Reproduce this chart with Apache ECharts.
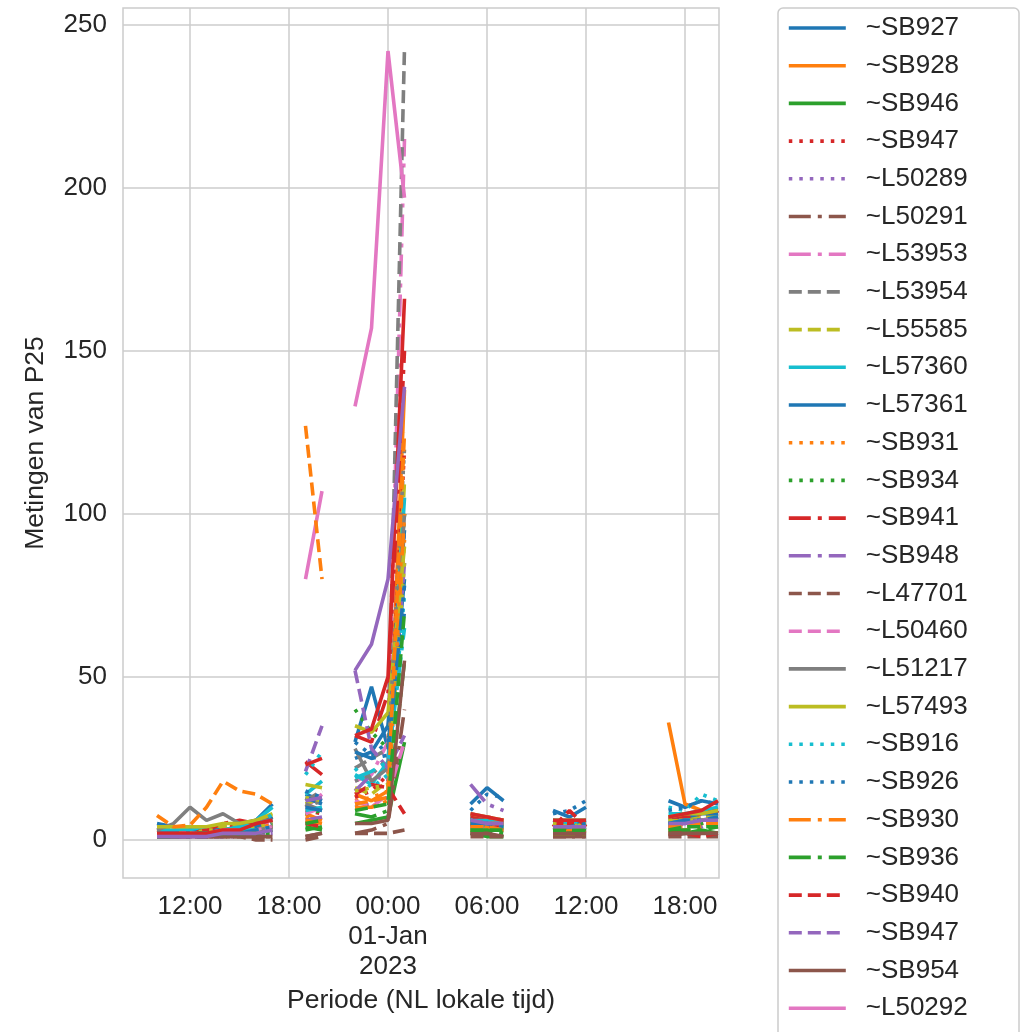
<!DOCTYPE html>
<html>
<head>
<meta charset="utf-8">
<script src="https://cdn.jsdelivr.net/npm/echarts@6/dist/echarts.min.js"></script>
<style>html,body{margin:0;padding:0;background:#fff}#c{width:1028px;height:1032px}</style>
</head>
<body>
<div id="c"></div>
<script>
// Time slots: hours since 2022-12-31 00:00 (null rows = gaps without measurements)
const hours = [10,11,12,13,14,15,16,17,18,19,20,21,22,23,24,25,26,29,30,31,32,34,35,36,37,41,42,43,44];

const xTickValues = [12,18,24,30,36,42];
const xTickLabels = ['12:00','18:00','00:00\n01-Jan\n2023','06:00','12:00','18:00'];
const yTickValues = [0,50,100,150,200,250];

const seriesNames = ['~SB927','~SB928','~SB946','~SB947','~L50289','~L50291','~L53953','~L53954','~L55585','~L57360','~L57361','~SB931','~SB934','~SB941','~SB948','~L47701','~L50460','~L51217','~L57493','~SB916','~SB926','~SB930','~SB936','~SB940','~SB947 ','~SB954','~L50292'];
// further sensors whose legend entries fall below the visible area
const hiddenNames = ['~n27','~n28','~n29','~n30','~n31','~n32','~n33','~n34'];

const N = null;
const v00 = [5,4,3,3,3,4,6,11,N,14,12,N,30,47,28,80,N,11,16,12,N,9,7,10,N,12,10,12,11];
const v01 = [3,2,2,3,3,4,5,7,N,8,6,N,14,12,15,138,N,5,4,3,N,3,3,2,N,36,11,9,8];
const v02 = [2,2,2,2,3,3,3,4,N,3,4,N,5,6,7,30,N,2,1,1,N,2,2,2,N,2,2,3,2];
const v03 = [2,2,3,3,4,4,4,6,N,9,8,N,13,15,20,120,N,6,5,6,N,4,5,4,N,5,6,5,9];
const v04 = [1,1,1,1,1,1,1,2,N,5,6,N,10,11,13,95,N,4,4,3,N,2,2,2,N,4,5,4,6];
const v05 = [1,1,1,1,1,1,1,1,N,1,2,N,2,3,5,40,N,2,2,1,N,1,1,1,N,1,2,2,2];
const v06 = [2,2,2,3,3,3,4,5,N,10,14,N,18,20,30,215,N,8,7,6,N,4,4,4,N,5,6,7,8];
const v07 = [3,3,3,3,4,4,4,5,N,12,15,N,22,25,28,243,N,7,6,5,N,5,5,6,N,6,7,7,8];
const v08 = [3,3,4,4,4,5,6,7,N,11,13,N,16,14,18,110,N,6,6,5,N,5,5,5,N,6,6,7,7];
const v09 = [3,3,3,3,3,4,6,10,N,14,18,N,20,17,24,105,N,7,6,5,N,6,6,6,N,8,8,9,10];
const v10 = [2,2,2,3,3,3,4,7,N,13,11,N,25,27,35,95,N,6,5,5,N,6,5,6,N,7,7,8,8];
const v11 = [2,2,2,2,2,3,3,4,N,7,6,N,12,13,15,92,N,4,4,4,N,3,3,3,N,4,4,5,5];
const v12 = [2,2,2,3,3,3,3,5,N,8,9,N,40,33,28,100,N,5,4,4,N,3,4,3,N,4,5,5,6];
const v13 = [2,2,2,3,5,6,5,6,N,24,20,N,32,30,45,150,N,7,7,6,N,5,5,5,N,7,7,8,9];
const v14 = [1,1,1,1,2,2,2,3,N,6,7,N,15,20,18,85,N,17,11,9,N,4,4,4,N,5,5,6,6];
const v15 = [1,1,1,1,1,1,0,0,N,0,1,N,2,2,2,3,N,1,1,1,N,1,1,1,N,1,1,1,1];
const v16 = [2,2,2,2,2,3,3,3,N,8,10,N,12,10,14,30,N,5,5,4,N,3,3,3,N,4,4,5,5];
const v17 = [3,5,10,6,8,5,6,6,N,11,9,N,28,18,22,100,N,6,5,5,N,4,4,4,N,5,6,6,7];
const v18 = [4,4,4,4,5,5,6,8,N,17,16,N,35,33,39,90,N,8,7,6,N,6,6,6,N,7,8,8,9];
const v19 = [2,2,2,2,3,3,4,8,N,20,27,N,22,16,20,75,N,5,4,4,N,5,5,5,N,10,9,14,12];
const v20 = [2,2,2,2,2,3,3,5,N,15,13,N,30,26,30,70,N,9,14,13,N,8,9,12,N,9,10,12,11];
const v21 = [2,2,2,2,3,3,3,5,N,6,5,N,10,10,12,100,N,3,3,3,N,2,2,2,N,3,3,4,4];
const v22 = [1,1,1,1,2,2,2,2,N,4,3,N,8,7,9,55,N,3,3,2,N,2,2,2,N,3,3,3,4];
const v23 = [2,2,2,2,3,3,3,4,N,5,4,N,14,17,16,8,N,5,4,4,N,4,9,4,N,2,2,1,2];
const v24 = [1,1,1,1,1,2,2,2,N,21,35,N,52,28,22,32,N,4,4,3,N,3,3,3,N,4,4,5,5];
const v25 = [1,1,1,1,1,1,1,1,N,1,2,N,5,5,6,55,N,2,2,1,N,2,2,2,N,2,2,2,2];
const v26 = [2,2,2,2,3,3,3,4,N,80,107,N,133,157,242,197,N,6,5,5,N,4,4,4,N,5,5,6,6];
const v27 = [2,2,2,2,2,3,3,4,N,10,12,N,18,20,25,120,N,6,5,5,N,4,4,5,N,5,6,6,7];
const v28 = [2,2,2,3,3,3,4,5,N,13,12,N,15,16,17,85,N,5,5,5,N,5,4,5,N,6,6,6,7];
const v29 = [2,2,2,2,2,3,3,4,N,9,10,N,19,21,24,65,N,6,5,4,N,4,4,4,N,5,6,6,7];
const v30 = [2,2,2,2,2,2,3,4,N,10,9,N,27,25,26,78,N,5,5,4,N,4,4,5,N,5,6,6,7];
const v31 = [7.5,4,4.5,10,18,15,14,11,N,127,80,N,11,12,13,125,N,4,4,3,N,3,3,3,N,4,4,5,5];
const v32 = [1,1,2,2,2,2,2,3,N,5,6,N,9,10,11,70,N,3,3,3,N,3,3,3,N,3,4,4,4];
const v33 = [2,2,2,2,3,3,5,6,N,23,25,N,32,34,50,166,N,8,7,6,N,6,6,6,N,7,8,9,12];
const v34 = [1,1,1,1,2,2,2,3,N,12,13,N,52,60,80,139,N,6,5,5,N,4,4,4,N,5,5,6,6];

const allValues = [v00,v01,v02,v03,v04,v05,v06,v07,v08,v09,v10,v11,v12,v13,v14,v15,v16,v17,v18,v19,v20,v21,v22,v23,v24,v25,v26,v27,v28,v29,v30,v31,v32,v33,v34];
const allNames = seriesNames.concat(hiddenNames);

const palette = ['#1f77b4','#ff7f0e','#2ca02c','#d62728','#9467bd','#8c564b','#e377c2','#7f7f7f','#bcbd22','#17becf'];
const dashStyles = {
  solid: 'solid',
  dot: [3.5, 7],
  dashdot: [22, 7, 4, 7],
  dash: [13, 6]
};
const styleOrder = ['solid','dot','dashdot','dash'];
function styleFor(i){ if (i === 0) return 'solid'; return styleOrder[Math.floor((i-1)/2) % 4]; }

const series = allValues.map((vals, i) => ({
  name: allNames[i],
  type: 'line',
  data: hours.map((h, k) => [h, vals[k]]),
  connectNulls: false,
  showSymbol: false,
  symbol: 'none',
  lineStyle: { color: palette[i % 10], width: 3.6, type: dashStyles[styleFor(i)], cap: 'butt' },
  itemStyle: { color: palette[i % 10] },
  emphasis: { disabled: true },
  z: 2
}));

const textColor = '#262626';
const font = 'Liberation Sans, Arial, sans-serif';

const chart = echarts.init(document.getElementById('c'), null, { renderer: 'canvas' });
chart.setOption({
  animation: false,
  backgroundColor: '#ffffff',
  grid: { left: 123, right: 309, top: 8, bottom: 154, show: true, borderColor: '#cccccc', borderWidth: 1.5, backgroundColor: 'transparent' },
  graphic: [{
    type: 'rect', z: 1, silent: true,
    shape: { x: 778, y: 8, width: 241, height: 1100, r: 5 },
    style: { fill: '#ffffff', stroke: '#cccccc', lineWidth: 1.5 }
  }],
  xAxis: {
    type: 'value', min: 7.94, max: 44.06,
    name: 'Periode (NL lokale tijd)', nameLocation: 'middle', nameGap: 106,
    nameTextStyle: { fontSize: 26.5, color: textColor, fontFamily: font },
    axisLine: { show: false },
    axisTick: { show: false, customValues: xTickValues },
    axisLabel: { customValues: xTickValues, margin: 14, fontSize: 26, color: textColor, fontFamily: font, lineHeight: 30,
      formatter: (v) => xTickLabels[xTickValues.indexOf(v)] },
    splitLine: { show: true, lineStyle: { color: '#cccccc', width: 1.5 } }
  },
  yAxis: {
    type: 'value', min: -11.7, max: 255.2,
    name: 'Metingen van P25', nameLocation: 'middle', nameGap: 74,
    nameTextStyle: { fontSize: 26.5, color: textColor, fontFamily: font },
    axisLine: { show: false },
    axisTick: { show: false, customValues: yTickValues },
    axisLabel: { customValues: yTickValues, margin: 16, fontSize: 26, color: textColor, fontFamily: font },
    splitLine: { show: true, lineStyle: { color: '#cccccc', width: 1.5 } }
  },
  legend: {
    data: seriesNames,
    orient: 'vertical',
    left: 787, top: 15, z: 5,
    padding: 0,
    itemWidth: 57, itemHeight: 14, itemGap: 11.7,
    itemStyle: { opacity: 0 },
    lineStyle: { width: 3.6 },
    textStyle: { fontSize: 26, color: textColor, fontFamily: font, padding: [0, 0, 0, 15] },
    selectedMode: false
  },
  series: series
});
</script>
</body>
</html>
